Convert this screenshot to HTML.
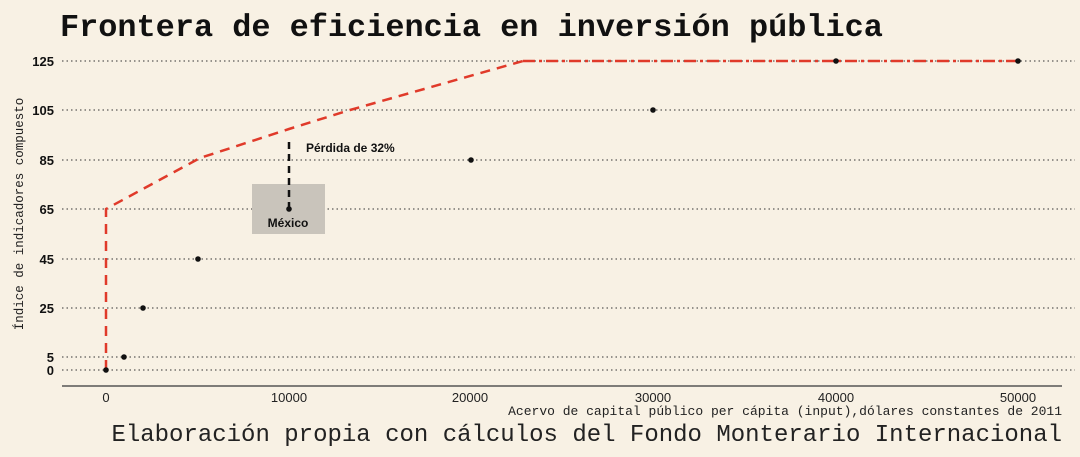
<!DOCTYPE html>
<html><head><meta charset="utf-8"><style>
body{margin:0;background:#f8f1e4;}
svg{display:block}
</style></head><body>
<svg width="1080" height="457" viewBox="0 0 1080 457" xmlns="http://www.w3.org/2000/svg">
<rect width="1080" height="457" fill="#f8f1e4"/>
<text x="60" y="36" font-family="Liberation Mono, monospace" font-weight="bold" font-size="31.9" fill="#111">Frontera de eficiencia en inversión pública</text>
<g stroke="#333" stroke-width="1" stroke-dasharray="1.5,3">
<line x1="62" x2="1075" y1="61" y2="61"/><line x1="62" x2="1075" y1="110" y2="110"/>
<line x1="62" x2="1075" y1="160" y2="160"/><line x1="62" x2="1075" y1="209" y2="209"/>
<line x1="62" x2="1075" y1="259" y2="259"/><line x1="62" x2="1075" y1="308" y2="308"/>
<line x1="62" x2="1075" y1="357" y2="357"/><line x1="62" x2="1075" y1="370" y2="370"/>
</g>
<g font-family="Liberation Sans, sans-serif" font-weight="bold" font-size="13" fill="#111" text-anchor="end">
<text x="54" y="66">125</text><text x="54" y="115">105</text><text x="54" y="165">85</text>
<text x="54" y="214">65</text><text x="54" y="264">45</text><text x="54" y="313">25</text>
<text x="54" y="362">5</text><text x="54" y="375">0</text>
</g>
<text transform="translate(23,214) rotate(-90)" text-anchor="middle" font-family="Liberation Mono, monospace" font-size="12.5" fill="#222">Índice de indicadores compuesto</text>
<line x1="62" x2="1062" y1="386" y2="386" stroke="#555" stroke-width="1.5"/>
<g font-family="Liberation Sans, sans-serif" font-size="13" fill="#222" text-anchor="middle">
<text x="106" y="402">0</text><text x="289" y="402">10000</text><text x="470" y="402">20000</text>
<text x="653" y="402">30000</text><text x="836" y="402">40000</text><text x="1018" y="402">50000</text>
</g>
<text x="1062" y="415" text-anchor="end" font-family="Liberation Mono, monospace" font-size="13" fill="#222">Acervo de capital público per cápita (input),dólares constantes de 2011</text>
<text x="1062" y="441" text-anchor="end" font-family="Liberation Mono, monospace" font-size="24" fill="#222">Elaboración propia con cálculos del Fondo Monterario Internacional</text>
<rect x="252" y="184" width="73" height="50" fill="#c9c4bb"/>
<text x="288" y="227" text-anchor="middle" font-family="Liberation Sans, sans-serif" font-weight="bold" font-size="12" fill="#111">México</text>
<polyline points="106,370 106,209 200,158 289,129 350,110 523,61" fill="none" stroke="#e03a2a" stroke-width="2.5" stroke-dasharray="10,7"/>
<line x1="523" y1="61" x2="1018" y2="61" stroke="#e03a2a" stroke-width="2.5" stroke-dasharray="12,4,3,4"/>
<line x1="289" y1="142" x2="289" y2="207" stroke="#111" stroke-width="2.5" stroke-dasharray="7,5"/>
<text x="306" y="152" font-family="Liberation Sans, sans-serif" font-weight="bold" font-size="12" fill="#111">Pérdida de 32%</text>
<g fill="#111">
<circle cx="106" cy="370" r="2.8"/><circle cx="124" cy="357" r="2.8"/><circle cx="143" cy="308" r="2.8"/>
<circle cx="198" cy="259" r="2.8"/><circle cx="289" cy="209" r="2.8"/><circle cx="471" cy="160" r="2.8"/>
<circle cx="653" cy="110" r="2.8"/><circle cx="836" cy="61" r="2.8"/><circle cx="1018" cy="61" r="2.8"/>
</g>
</svg>
</body></html>
